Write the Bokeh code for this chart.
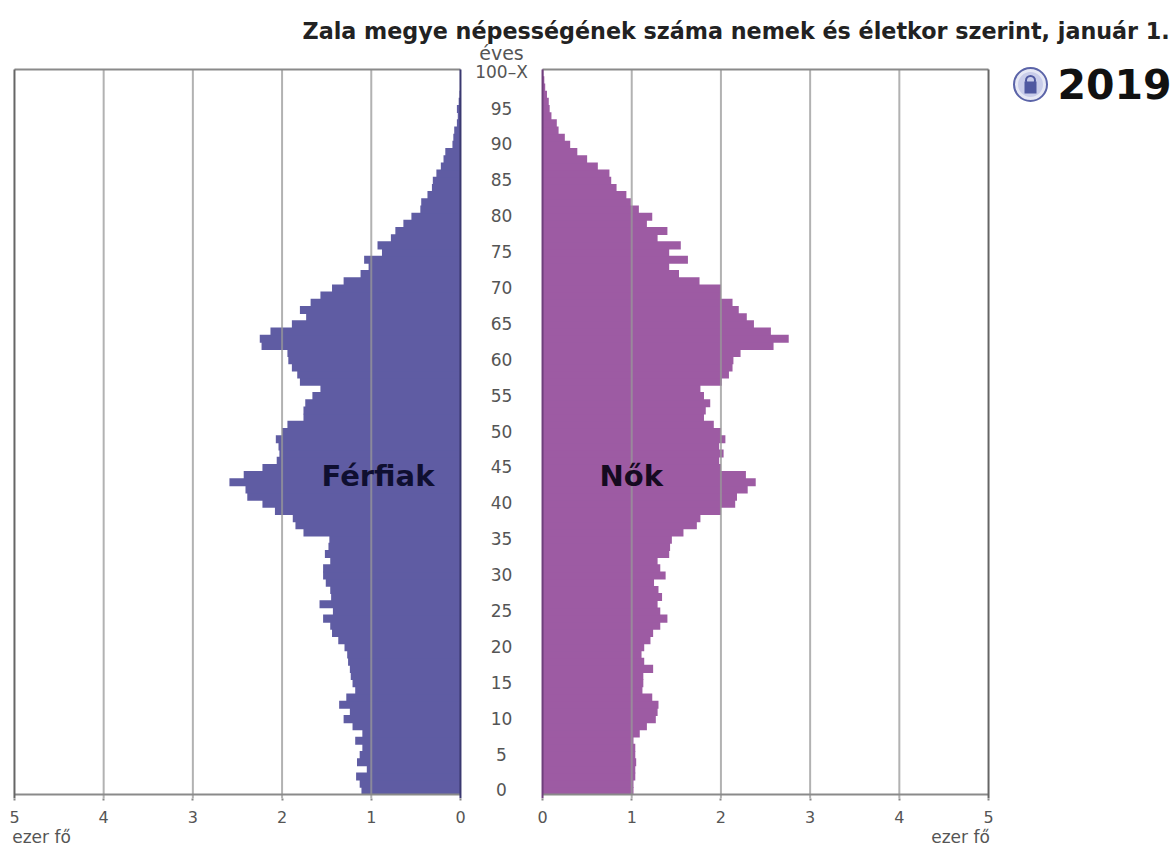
from bokeh.plotting import figure
from bokeh.models import Range1d, LinearAxis, FixedTicker, Label, ColumnDataSource
from bokeh.core.properties import value
from bokeh.embed import file_html
from bokeh.resources import INLINE

TITLE = "Zala megye népességének száma nemek és életkor szerint, január 1."
YEAR = "2019"
UNIT = "ezer fő"
AGE_HEAD = "éves"
MEN_LABEL = "Férfiak"
WOMEN_LABEL = "Nők"

ages = list(range(101))
age_ticks = list(range(0, 101, 5))
age_tick_labels = [str(a) for a in age_ticks[:-1]] + ["100–X"]
value_ticks = [0, 1, 2, 3, 4, 5]

men = [1.11, 1.13, 1.17, 1.05, 1.16, 1.13, 1.10, 1.18, 1.10, 1.21,
       1.31, 1.24, 1.36, 1.28, 1.18, 1.21, 1.23, 1.24, 1.26, 1.27,
       1.30, 1.37, 1.44, 1.46, 1.54, 1.43, 1.58, 1.45, 1.46, 1.51,
       1.54, 1.54, 1.46, 1.52, 1.48, 1.47, 1.76, 1.85, 1.88, 2.08,
       2.22, 2.39, 2.41, 2.59, 2.43, 2.22, 2.06, 2.03, 2.04, 2.07,
       2.00, 1.94, 1.76, 1.76, 1.74, 1.66, 1.57, 1.80, 1.83, 1.89,
       1.93, 1.94, 2.23, 2.25, 2.13, 1.89, 1.73, 1.80, 1.68, 1.57,
       1.44, 1.31, 1.12, 1.03, 1.08, 0.88, 0.93, 0.78, 0.73, 0.64,
       0.55, 0.45, 0.44, 0.37, 0.32, 0.31, 0.27, 0.22, 0.19, 0.17,
       0.09, 0.08, 0.07, 0.04, 0.03, 0.04, 0.02, 0.01, 0.005, 0.003, 0.002]

women = [1.02, 1.02, 1.04, 1.04, 1.05, 1.04, 1.04, 1.02, 1.09, 1.17,
         1.27, 1.29, 1.30, 1.23, 1.12, 1.13, 1.13, 1.24, 1.14, 1.11,
         1.14, 1.21, 1.24, 1.32, 1.40, 1.32, 1.29, 1.34, 1.30, 1.25,
         1.38, 1.32, 1.29, 1.42, 1.43, 1.45, 1.58, 1.73, 1.77, 2.00,
         2.16, 2.18, 2.30, 2.39, 2.28, 2.00, 1.98, 2.03, 1.98, 2.05,
         2.00, 1.92, 1.81, 1.83, 1.88, 1.81, 1.77, 2.01, 2.09, 2.13,
         2.14, 2.22, 2.59, 2.76, 2.56, 2.37, 2.29, 2.20, 2.13, 2.00,
         2.00, 1.76, 1.53, 1.42, 1.63, 1.42, 1.55, 1.29, 1.40, 1.17,
         1.23, 1.08, 0.99, 0.94, 0.83, 0.77, 0.75, 0.62, 0.50, 0.39,
         0.31, 0.25, 0.18, 0.16, 0.10, 0.08, 0.07, 0.05, 0.03, 0.02, 0.01]

W, H = 1174, 849
FRAME_L, FRAME_R, FRAME_T, FRAME_B = 0, 1174, 0, 798   # picture pixels
BAR_B = 794      # pixel of the bars' bottom edge
PX_X = 89.2      # pixels per thousand
PX_Y = 7.178     # pixels per age year
CENTER = 501
GAP = 0.46


def dx(px):
    return (px - CENTER) / PX_X


def dy(py):
    return -0.5 + (BAR_B - py) / PX_Y


p = figure(width=W, height=H, output_backend="svg", toolbar_location=None,
           x_range=Range1d(dx(FRAME_L), dx(FRAME_R)),
           y_range=Range1d(dy(FRAME_B), dy(FRAME_T)),
           y_axis_location=None, x_axis_location=None,
           min_border_left=0, min_border_right=0, min_border_top=0, min_border_bottom=H - FRAME_B)
p.grid.visible = False
p.outline_line_color = None
p.background_fill_color = "white"
p.border_fill_color = "white"

p.extra_x_ranges["men"] = Range1d(-dx(FRAME_L) - GAP, -dx(FRAME_R) - GAP)
p.extra_x_ranges["women"] = Range1d(dx(FRAME_L) - GAP, dx(FRAME_R) - GAP)

TEXT = "#555555"
FONT = value("DejaVu Sans")

# bars
src_m = ColumnDataSource(dict(y=ages, v=men, z=[0] * len(ages)))
src_w = ColumnDataSource(dict(y=ages, v=women, z=[0] * len(ages)))
p.hbar(y="y", left="z", right="v", height=1.12, source=src_m, x_range_name="men",
       fill_color="#5f5ca3", line_color=None)
p.hbar(y="y", left="z", right="v", height=1.12, source=src_w, x_range_name="women",
       fill_color="#9d5ba3", line_color=None)

# grid lines over bars
y_low = dy(FRAME_B)
for rng in ("men", "women"):
    p.segment(x0=value_ticks[1:-1], x1=value_ticks[1:-1],
              y0=[y_low] * 4, y1=[100.5] * 4, x_range_name=rng,
              line_color="#989898", line_alpha=0.75, line_width=2)
    p.segment(x0=[0, 5], x1=[5, 0], y0=[100.5, -0.5], y1=[100.5, -0.5], x_range_name=rng,
              line_color="#8a8a8a", line_width=2)

p.segment(x0=[5], x1=[5], y0=[y_low], y1=[100.5], x_range_name="men", line_color="#666666", line_width=2)
p.segment(x0=[0], x1=[0], y0=[y_low], y1=[100.5], x_range_name="men", line_color="#3a3870", line_width=2)
p.segment(x0=[0], x1=[0], y0=[y_low], y1=[100.5], x_range_name="women", line_color="#6f3f7c", line_width=2)
p.segment(x0=[5], x1=[5], y0=[y_low], y1=[100.5], x_range_name="women", line_color="#666666", line_width=2)

# central age labels
p.text(x=[0] * len(age_ticks), y=age_ticks, text=age_tick_labels,
       text_align="center", text_baseline="middle", text_font=FONT,
       text_font_size="17px", text_color=TEXT, y_offset=-1)

# bottom axis: one tick for each value in each panel
tick_pos = [-(GAP + v) for v in value_ticks] + [GAP + v for v in value_ticks]
overrides = {t: str(v) for t, v in zip(tick_pos, value_ticks + value_ticks)}
ax = LinearAxis(ticker=FixedTicker(ticks=tick_pos), major_label_overrides=overrides,
                axis_line_color=None, major_tick_line_color="#888888", major_tick_line_width=2,
                major_tick_in=0, major_tick_out=2, minor_tick_line_color=None,
                major_label_text_color=TEXT, major_label_text_font="DejaVu Sans",
                major_label_text_font_size="16px", major_label_standoff=10)
p.add_layout(ax, "below")

# unit captions: a second axis below the first, without lines
unit_pos = [dx(41), dx(960)]
ax2 = LinearAxis(ticker=FixedTicker(ticks=unit_pos),
                 major_label_overrides={t: UNIT for t in unit_pos},
                 axis_line_color=None, major_tick_line_color=None, minor_tick_line_color=None,
                 major_tick_in=0, major_tick_out=0,
                 major_label_text_color=TEXT, major_label_text_font="DejaVu Sans",
                 major_label_text_font_size="17px", major_label_standoff=1)
p.add_layout(ax2, "below")


# texts
def label(txt, px, py, size, color, font="DejaVu Sans", style="normal", align="left"):
    p.add_layout(Label(x=dx(px), y=dy(py), text=txt, text_font=font, text_font_size=size,
                       text_font_style=style, text_color=color, text_align=align,
                       text_baseline="middle"))


label(TITLE, 302, 30, "22.25px", "#222222", style="bold")
label(AGE_HEAD, 501, 52, "19px", TEXT, align="center")
label(YEAR, 1057, 83, "41px", "#111111", style="bold")
label(MEN_LABEL, 321, 475, "29px", "#0f0f30", style="bold")
label(WOMEN_LABEL, 599, 475, "29px", "#150a20", style="bold")

# lock badge
ix, iy = dx(1030), dy(84)
p.scatter([ix], [iy], size=33, fill_color="#e6e8f5", line_color="#5b64a8", line_width=2)
p.scatter([ix], [iy], size=25, fill_color="#c9cdea", line_color=None)
p.scatter([ix], [dy(80)], size=9, marker="circle", fill_color=None, line_color="#4f58a0", line_width=2)
p.scatter([ix], [dy(87)], size=12, marker="square", fill_color="#4f58a0", line_color=None)

open("out.html", "w").write(file_html(p, INLINE))
